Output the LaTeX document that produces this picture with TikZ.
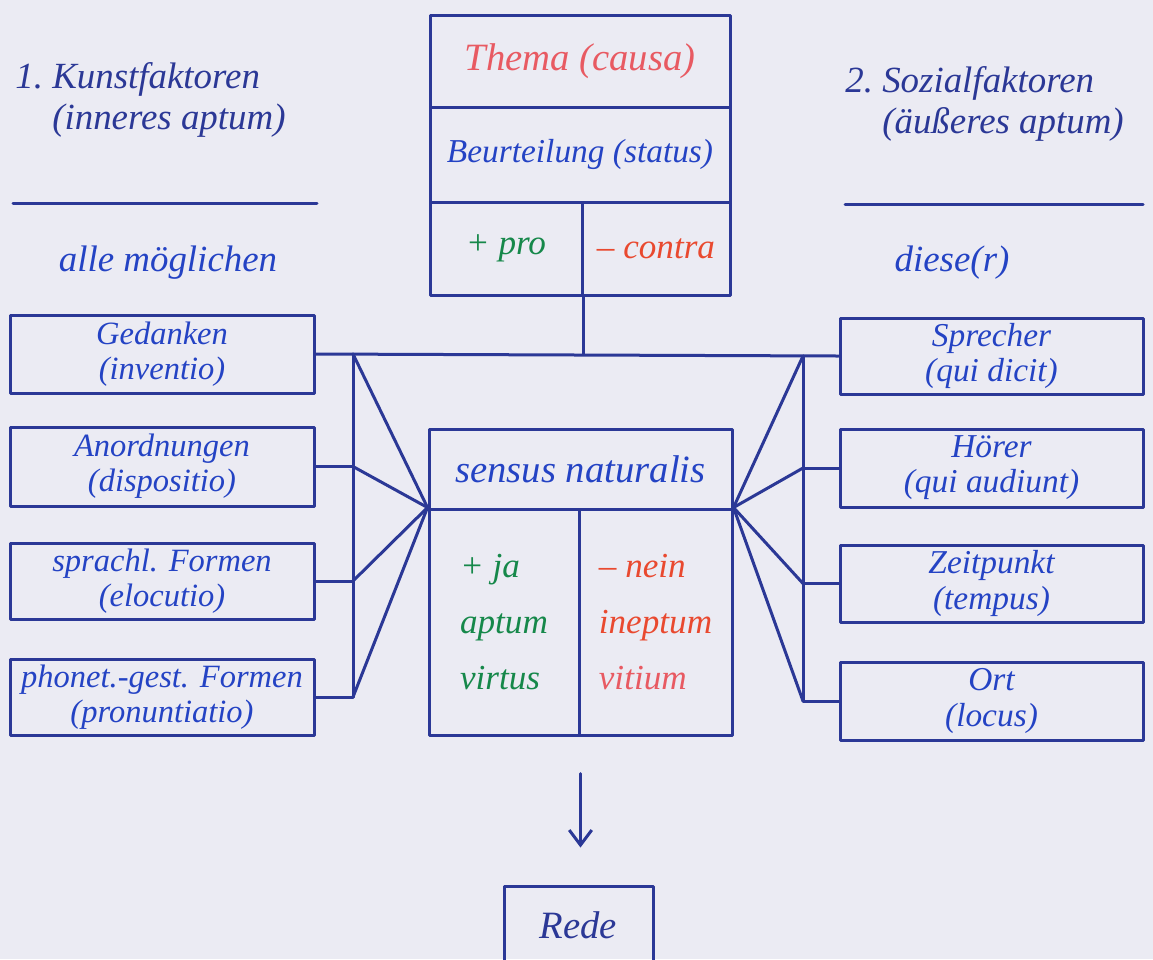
\documentclass[tikz,border=0pt]{standalone}
\usepackage{fontspec}
\setmainfont{Liberation Serif}
\usetikzlibrary{arrows.meta}
\definecolor{ink}{HTML}{2B3896}
\definecolor{bluetxt}{HTML}{2443C4}
\definecolor{redA}{HTML}{E85A62}
\definecolor{redB}{HTML}{E9492F}
\definecolor{greenA}{HTML}{16884A}
\definecolor{paper}{HTML}{EBEBF3}
\begin{document}
\begin{tikzpicture}[x=0.2mm,y=-0.2mm,
  wire/.style={draw=ink, line width=0.6mm, line cap=round, line join=round},
  box/.style={rectangle, draw=ink, line width=0.6mm, inner sep=0pt, align=center, line join=round},
  lbox/.style={box, minimum width=304*0.2mm, text=bluetxt, font=\itshape\fontsize{18.5}{20}\selectfont},
  rbox/.style={box, minimum width=303*0.2mm, text=bluetxt, font=\itshape\fontsize{19}{20}\selectfont},
  head/.style={inner sep=0pt, align=left, text=ink, font=\itshape\fontsize{21}{23}\selectfont},
  sub/.style={inner sep=0pt, text=bluetxt, font=\itshape\fontsize{21}{24}\selectfont},
  big/.style={font=\itshape\fontsize{22}{24}\selectfont},
  mid/.style={font=\itshape\fontsize{19}{22}\selectfont},
  col/.style={align=left, font=\itshape\fontsize{20}{32}\selectfont}
]
\useasboundingbox (0,0) rectangle (1153,959);
\fill[paper] (0,0) rectangle (1153,959);

% headers
\node[head, anchor=west] (kunst) at (15,100) {1.~Kunstfaktoren\\\phantom{1.~}(inneres aptum)};
\node[head, anchor=west] (sozial) at (845,104) {2.~Sozialfaktoren\\\phantom{2.~}(äußeres aptum)};
\coordinate (ruleL1) at (13,203); \coordinate (ruleL2) at (317,203);
\coordinate (ruleR1) at (845,204); \coordinate (ruleR2) at (1143,204);
\draw[wire] (ruleL1) -- (ruleL2);
\draw[wire] (ruleR1) -- (ruleR2);
\node[sub] (alle) at (168,263) {alle möglichen};
\node[sub] (diese) at (952,263) {diese(r)};

% top box
\node[box, big, minimum width=300*0.2mm, minimum height=92*0.2mm, text=redA] (thema) at (580,61) {Thema (causa)};
\node[box, mid, minimum width=300*0.2mm, minimum height=95*0.2mm, text=bluetxt] (status) at (580,154.5) {Beurteilung (status)};
\node[box, font=\itshape\fontsize{20}{22}\selectfont, minimum width=152*0.2mm, minimum height=93*0.2mm, text=greenA] (pro) at (506,248.5) {+ pro};
\node[box, font=\itshape\fontsize{20}{22}\selectfont, minimum width=148*0.2mm, minimum height=93*0.2mm, text=redB] (contra) at (656,248.5) {– contra};

% left boxes
\node[lbox, minimum height=78*0.2mm] (ged) at (162,354) {Gedanken\\(inventio)};
\node[lbox, minimum height=79*0.2mm] (ano) at (162,466.5) {Anordnungen\\(dispositio)};
\node[lbox, minimum height=76*0.2mm] (spra) at (162,581) {sprachl. Formen\\(elocutio)};
\node[lbox, minimum height=76*0.2mm] (pho) at (162,697) {phonet.-gest. Formen\\(pronuntiatio)};

% right boxes
\node[rbox, minimum height=76*0.2mm] (sprecher) at (991.5,356) {Sprecher\\(qui dicit)};
\node[rbox, minimum height=78*0.2mm] (hoerer) at (991.5,468) {Hörer\\(qui audiunt)};
\node[rbox, minimum height=77*0.2mm] (zeit) at (991.5,583.5) {Zeitpunkt\\(tempus)};
\node[rbox, minimum height=78*0.2mm] (ort) at (991.5,701) {Ort\\(locus)};

% sensus box
\node[box, big, minimum width=303*0.2mm, minimum height=80*0.2mm, text=bluetxt] (sensus) at (580.5,469) {sensus naturalis};
\node[box, col, minimum width=150*0.2mm, minimum height=226*0.2mm, text=greenA] (ja) at (504,622) {+ ja\\aptum\\virtus};
\node[box, col, minimum width=153*0.2mm, minimum height=226*0.2mm] (nein) at (655.5,622) {\textcolor{redB}{– nein}\\\textcolor{redB}{ineptum}\\\textcolor{redA}{vitium}};

% Rede
\node[box, big, minimum width=149*0.2mm, minimum height=78*0.2mm, text=ink] (rede) at (578.5,925) {Rede};

% connectors
\coordinate (busL) at (353,0);
\coordinate (busR) at (803,0);
\draw[wire] (ged.east) -- (sprecher.west);
\draw[wire] (pro.south east) -- (pro.south east |- ged.east);
\draw[wire] (busL |- ged.east) -- (busL |- pho.east);
\draw[wire] (busR |- sprecher.west) -- (busR |- ort.west);
\foreach \n in {ano,spra,pho} \draw[wire] (\n.east) -- (busL |- \n.east);
\foreach \n in {hoerer,zeit,ort} \draw[wire] (\n.west) -- (busR |- \n.west);
\foreach \n in {ged,ano,spra,pho} \draw[wire] (busL |- \n.east) -- (ja.north west);
\foreach \n in {sprecher,hoerer,zeit,ort} \draw[wire] (busR |- \n.west) -- (nein.north east);
\draw[wire, -{Straight Barb[length=3mm,width=4.5mm]}, shorten <=37*0.2mm, shorten >=37*0.2mm] (ja.south east) -- (ja.south east |- rede.north);
\end{tikzpicture}
\end{document}
